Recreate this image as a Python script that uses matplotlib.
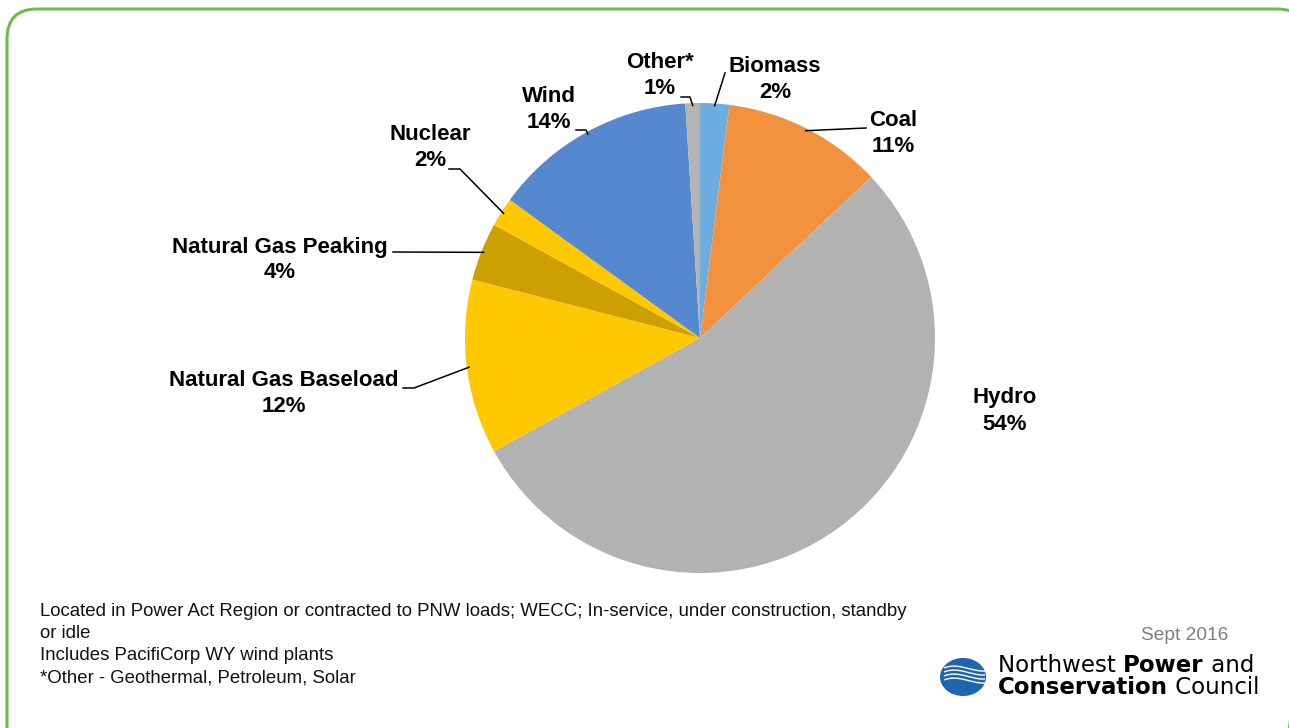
import numpy as np
import matplotlib.pyplot as plt
from matplotlib.patches import FancyBboxPatch, Ellipse
from matplotlib.path import Path
from matplotlib.patches import PathPatch

plt.rcParams['font.family'] = ['Liberation Sans', 'DejaVu Sans']

# data
labels = ["Biomass", "Coal", "Hydro", "Natural Gas Baseload", "Natural Gas Peaking",
          "Nuclear", "Wind", "Other*"]
shares = [2, 11, 54, 12, 4, 2, 14, 1]
colors = ["#6CACDE", "#F2923F", "#B2B2B2", "#FFC800", "#CCA000",
          "#FFC800", "#5688D0", "#B4B4B4"]

footnotes = ["Located in Power Act Region or contracted to PNW loads; WECC; In-service, under construction, standby",
             "or idle",
             "Includes PacifiCorp WY wind plants",
             "*Other - Geothermal, Petroleum, Solar"]

W, H = 1289, 728
fig = plt.figure(figsize=(W / 100, H / 100), dpi=100)

# overlay in pixel coordinates
ov = fig.add_axes([0, 0, 1, 1])
ov.set_xlim(0, W)
ov.set_ylim(H, 0)
ov.axis('off')

# green rounded frame
frame = FancyBboxPatch((7, 9), 1300, 760, boxstyle="round,pad=0,rounding_size=30",
                       fc='none', ec='#6BBE4E', lw=2.2)
ov.add_patch(frame)

# pie
cx, cy, r = 700, 338, 235
pax = fig.add_axes([(cx - r) / W, (H - cy - r) / H, 2 * r / W, 2 * r / H])
wedges, _ = pax.pie(shares, colors=colors, startangle=90, counterclock=False,
                    radius=1, wedgeprops=dict(linewidth=0))
pax.set_xlim(-1, 1)
pax.set_ylim(-1, 1)
pax.set_aspect('equal')
pax.axis('off')
pax.set_zorder(1)
ov.set_zorder(2)
ov.patch.set_alpha(0)


def edge_point(w, rr=1.0):
    a = np.deg2rad((w.theta1 + w.theta2) / 2)
    disp = pax.transData.transform((rr * np.cos(a), rr * np.sin(a)))
    return ov.transData.inverted().transform(disp)


# label positions (text center x, top line y) and leader elbows
label_pos = {
    "Biomass": (775, 66),
    "Coal": (893, 121),
    "Hydro": (1005, 398),
    "Natural Gas Baseload": (284, 381),
    "Natural Gas Peaking": (280, 247),
    "Nuclear": (430, 135),
    "Wind": (549, 97),
    "Other*": (660, 63),
}
leaders = {
    "Biomass": [(725, 73)],
    "Coal": [(866, 128)],
    "Natural Gas Baseload": [(403, 388), (414, 388)],
    "Natural Gas Peaking": [(393, 252)],
    "Nuclear": [(449, 169), (460, 169)],
    "Wind": [(576, 130), (586, 130)],
    "Other*": [(681, 97), (690, 97)],
}

fig.canvas.draw()
for w, lab, s in zip(wedges, labels, shares):
    x, y = label_pos[lab]
    ov.text(x, y, lab, ha='center', va='center', fontsize=16, fontweight='bold')
    ov.text(x, y + 26, f"{s}%", ha='center', va='center', fontsize=16, fontweight='bold')
    if lab in leaders:
        pts = leaders[lab] + [tuple(edge_point(w, 0.99))]
        xs, ys = zip(*pts)
        ov.plot(xs, ys, color='black', lw=1.1)

# footnotes
for i, t in enumerate(footnotes):
    ov.text(40, 611 + i * 22.3, t, ha='left', va='center', fontsize=13.4, color='#111111')

ov.text(1185, 635, "Sept 2016", ha='center', va='center', fontsize=13.8, color='#7F7F7F')

# logo
ov.add_patch(Ellipse((963, 677), 46, 38, fc='#1E64B0', ec='none'))
for k in range(4):
    off = k * 4
    verts = [(944, 668 + off), (958, 662 + off), (972, 672 + off), (985, 668 + off + 3)]
    ov.add_patch(PathPatch(Path(verts, [Path.MOVETO, Path.CURVE4, Path.CURVE4, Path.CURVE4]),
                           fc='none', ec='white', lw=1.0))

fig.canvas.draw()
rend = fig.canvas.get_renderer()


def run_text(x, y, parts):
    for txt, wt in parts:
        t = ov.text(x, y, txt, ha='left', va='center', fontsize=16.5, fontweight=wt,
                    family=['DejaVu Sans'], color='black')
        bb = t.get_window_extent(rend)
        x0 = ov.transData.inverted().transform((bb.x0, 0))[0]
        x1 = ov.transData.inverted().transform((bb.x1, 0))[0]
        x += (x1 - x0)


run_text(998, 665, [("Northwest ", 'normal'), ("Power", 'bold'), (" and", 'normal')])
run_text(998, 688, [("Conservation", 'bold'), (" Council", 'normal')])

fig.savefig("out.png", dpi=100)
